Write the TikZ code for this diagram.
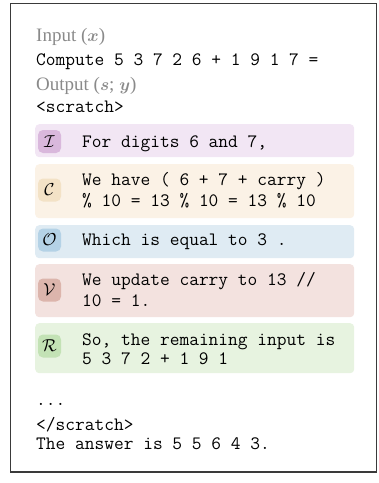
\documentclass[tikz,border=0pt]{standalone}
\usepackage{amsmath,bm}
\usepackage{fontspec}
\setmainfont{Liberation Serif}
\definecolor{labgray}{HTML}{8A8A8A}
\definecolor{framecol}{HTML}{3A3A3A}
\definecolor{Ibg}{HTML}{F2E6F4}\definecolor{Iic}{HTML}{D9B8DC}
\definecolor{Cbg}{HTML}{FBF2E6}\definecolor{Cic}{HTML}{F3E2C6}
\definecolor{Obg}{HTML}{DFEBF3}\definecolor{Oic}{HTML}{B4D2E6}
\definecolor{Vbg}{HTML}{F3E2DF}\definecolor{Vic}{HTML}{DCB5AC}
\definecolor{Rbg}{HTML}{E7F3E0}\definecolor{Ric}{HTML}{C3E2B5}
\begin{document}
\begin{tikzpicture}[x=1pt,y=-1pt,
  tt/.style={anchor=base west, inner sep=0pt, font=\fontsize{18.9}{21}\selectfont\ttfamily},
  lab/.style={anchor=base west, inner sep=0pt, font=\fontsize{19}{22}\selectfont, text=labgray},
  stepbox/.style={anchor=north west, rounded corners=4pt, minimum width=319pt, inner sep=0pt, draw=none},
  icon/.style={rounded corners=5pt, minimum size=23pt, inner sep=0pt, font=\fontsize{18}{18}\selectfont}]
\useasboundingbox (0,0) rectangle (379,483);
\draw[framecol, line width=1.2pt] (10.5,3.5) rectangle (376.5,472);

\node[lab] (inlab) at (36,41) {Input ($\bm{x}$)};
\node[tt] (inp) at (36,65) {Compute 5 3 7 2 6 + 1 9 1 7 =};
\node[lab] (outlab) at (36,90) {Output ($\bm{s}$; $\bm{y}$)};
\node[tt] (scr) at (36,112) {<scratch>};

% I box
\node[stepbox, fill=Ibg, minimum height=33pt] (Ibox) at (35,124) {};
\node[icon, fill=Iic] (Iic) at (49.5,141.5) {$\mathcal{I}$};
\node[tt] (It) at (82,147) {For digits 6 and 7,};

% C box
\node[stepbox, fill=Cbg, minimum height=54pt] (Cbox) at (35,164) {};
\node[icon, fill=Cic] (Cic) at (49.5,190) {$\mathcal{C}$};
\node[tt] (Ct1) at (82,185.5) {We have ( 6 + 7 + carry )};
\node[tt] (Ct2) at (82,206.5) {\% 10 = 13 \% 10 = 13 \% 10};

% O box
\node[stepbox, fill=Obg, minimum height=33pt] (Obox) at (35,225) {};
\node[icon, fill=Oic] (Oic) at (49.5,240) {$\mathcal{O}$};
\node[tt] (Ot) at (82,245.5) {Which is equal to 3 .};

% V box
\node[stepbox, fill=Vbg, minimum height=53pt] (Vbox) at (35,264) {};
\node[icon, fill=Vic] (Vic) at (49.5,290) {$\mathcal{V}$};
\node[tt] (Vt1) at (82,285.5) {We update carry to 13 //};
\node[tt] (Vt2) at (82,306.5) {10 = 1.};

% R box
\node[stepbox, fill=Rbg, minimum height=50pt] (Rbox) at (35,323) {};
\node[icon, fill=Ric] (Ric) at (49.5,346) {$\mathcal{R}$};
\node[tt] (Rt1) at (82,345) {So, the remaining input is};
\node[tt] (Rt2) at (82,364.5) {5 3 7 2 + 1 9 1};

\node[tt] (dots) at (36,405) {...};
\node[tt] (escr) at (36,430) {</scratch>};
\node[tt] (ans) at (36,449.5) {The answer is 5 5 6 4 3.};
\end{tikzpicture}
\end{document}
